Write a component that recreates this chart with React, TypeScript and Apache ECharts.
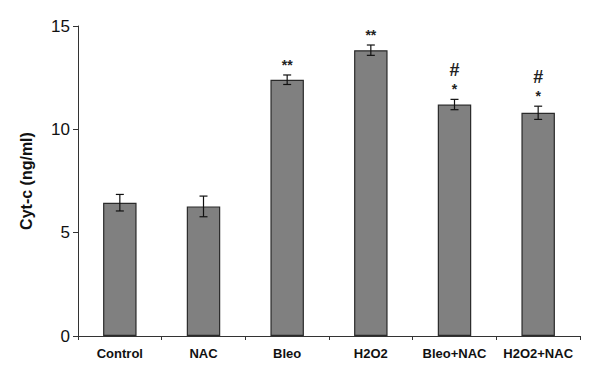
import React, { useEffect, useRef } from "react";
import * as echarts from "echarts";

const categories = ["Control", "NAC", "Bleo", "H2O2", "Bleo+NAC", "H2O2+NAC"];
const means = [6.45, 6.27, 12.4, 13.83, 11.2, 10.8];
const errors = [0.4, 0.5, 0.23, 0.25, 0.25, 0.32];
const starMarks = ["", "", "**", "**", "*", "*"];
const hashMarks = ["", "", "", "", "#", "#"];
const yTicks = [0, 5, 10, 15];

export default function App() {
  const ref = useRef<HTMLDivElement>(null);
  useEffect(() => {
    if (!ref.current) return;
    const chart = echarts.init(ref.current, null, { renderer: "svg" });
    const errData = means.map((m, i) => [i, m - errors[i], m + errors[i]]);
    const annData = means.map((m, i) => [i, m + errors[i]]);
    chart.setOption({
      animation: false,
      backgroundColor: "#ffffff",
      grid: { left: 78, right: 20, top: 26, bottom: 42 },
      xAxis: {
        type: "category",
        data: categories,
        axisLine: { lineStyle: { color: "#333", width: 1 } },
        axisTick: { show: true, alignWithLabel: false, length: 4, lineStyle: { color: "#333" } },
        axisLabel: {
          interval: 0,
          hideOverlap: false,
          color: "#111",
          fontFamily: "Liberation Sans, Arial, sans-serif",
          fontWeight: "bold",
          fontSize: 13,
          margin: 11,
        },
      },
      yAxis: {
        type: "value",
        min: yTicks[0],
        max: yTicks[yTicks.length - 1],
        interval: 5,
        name: "Cyt-c (ng/ml)",
        nameLocation: "middle",
        nameGap: 44,
        nameRotate: 90,
        nameTextStyle: {
          color: "#111",
          fontFamily: "Liberation Sans, Arial, sans-serif",
          fontWeight: "bold",
          fontSize: 16,
        },
        axisLine: { show: true, lineStyle: { color: "#333", width: 1 } },
        axisTick: { show: true, length: 5, lineStyle: { color: "#333" } },
        splitLine: { show: false },
        axisLabel: {
          color: "#111",
          fontFamily: "Liberation Sans, Arial, sans-serif",
          fontSize: 17,
          margin: 8,
        },
      },
      series: [
        {
          type: "bar",
          data: means,
          barWidth: "40%",
          itemStyle: { color: "#808080", borderColor: "#2a2a2a", borderWidth: 1.2 },
        },
        {
          type: "custom",
          data: errData,
          z: 5,
          renderItem: (params: any, api: any) => {
            const x = api.value(0);
            const lo = api.coord([x, api.value(1)]);
            const hi = api.coord([x, api.value(2)]);
            const cap = 4;
            const style = { stroke: "#111", lineWidth: 1.2 };
            return {
              type: "group",
              children: [
                { type: "line", shape: { x1: lo[0], y1: lo[1], x2: hi[0], y2: hi[1] }, style },
                { type: "line", shape: { x1: hi[0] - cap, y1: hi[1], x2: hi[0] + cap, y2: hi[1] }, style },
                { type: "line", shape: { x1: lo[0] - cap, y1: lo[1], x2: lo[0] + cap, y2: lo[1] }, style },
              ],
            };
          },
        },
        {
          type: "custom",
          data: annData,
          z: 6,
          renderItem: (params: any, api: any) => {
            const i = params.dataIndex;
            const p = api.coord([api.value(0), api.value(1)]);
            const children: any[] = [];
            if (starMarks[i]) {
              children.push({
                type: "text",
                x: p[0],
                y: p[1] - 10,
                style: {
                  text: starMarks[i],
                  fill: "#222",
                  font: "bold 14px Liberation Sans, Arial, sans-serif",
                  textAlign: "center",
                  textVerticalAlign: "middle",
                },
              });
            }
            if (hashMarks[i]) {
              children.push({
                type: "text",
                x: p[0],
                y: p[1] - 29,
                style: {
                  text: hashMarks[i],
                  fill: "#222",
                  font: "bold 18px Liberation Sans, Arial, sans-serif",
                  textAlign: "center",
                  textVerticalAlign: "middle",
                },
              });
            }
            return { type: "group", children };
          },
        },
      ],
    });
    return () => chart.dispose();
  }, []);
  return <div ref={ref} style={{ width: 600, height: 378, position: "absolute", left: 0, top: 0 }} />;
}
